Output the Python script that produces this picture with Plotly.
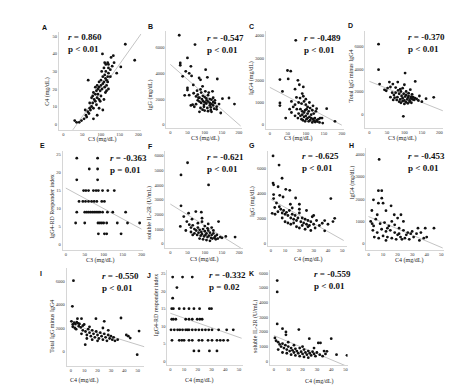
import plotly.graph_objects as go

W, H = 474, 385

# ---------------- data ----------------
# A: C3 vs C4
A_c3 = [30,35,42,48,55,60,62,65,68,70,72,75,58,78,80,82,85,88,90,92,95,85,80,88,92,95,98,100,103,105,
        108,110,112,115,100,95,90,110,113,118,120,105,85,78,75,70,100,108,98,112,115,118,120,125,130,135,
        110,104,127,133,153,165,66,95,105,90,80,115,125,120,102,108,118,190,142,120,113]
A_c4 = [2,1,1,2,3,5,4,7,6,9,8,10,8,12,9,14,13,11,15,17,14,17,18,19,20,21,19,22,20,23,
        24,21,26,25,25,24,22,28,30,27,29,27,21,16,15,12,16,14,13,18,22,24,32,31,33,35,
        35,40,38,39,32.6,45.5,25,9,8,5,3,19,27,20,30,32,35,36.4,29,34,34]
A_fit_x = [25, 207]
A_fit_y = [-3.3, 51.4]

# B: C3 vs IgG
B_c3 = [26,72,50,29,29,60,45,55,103,84,88,108,137,36,62,50,50,67,94,123,42,55,68,75,80,85,90,95,100,105,
        110,115,120,125,80,85,90,95,100,105,110,115,120,125,130,75,70,88,98,108,118,128,135,100,110,120,
        94,85,65,152,171,187,142,147,112,102,92,82,130,135,115,106,78,88,98,60,118,125]
B_igg = [6970,6240,5200,4810,4630,4550,4160,4000,4290,3640,3500,3690,3560,3770,3800,2860,2700,3100,2990,2600,
         2290,2300,2450,2200,2350,2100,2500,2250,2150,2050,2300,2000,1950,2100,1900,1800,1700,1850,1750,1650,
         1800,1700,1600,1500,1700,1600,1400,1300,1400,1300,1350,1250,1400,1100,1050,1000,1170,1000,1560,2030,
         2080,1610,1610,910,2500,2600,2000,2100,1900,1200,1500,1900,2650,2750,1550,1500,1150,1750]
B_fit_x = [0, 205]
B_fit_y = [4700, -100]

# C: C3 vs IgG4
C_c3 = [72,49,58,28,51,82,93,35,74,28,28,84,93,60,65,70,80,88,95,100,105,75,85,90,98,102,108,112,118,122,
        128,130,158,80,85,90,95,100,105,110,115,120,125,130,135,140,88,92,98,102,108,112,118,122,126,132,
        138,145,181,147,44,70,78,95,105,115,60,55,110,120,100,90,70,78]
C_igg4 = [3800,2440,2410,2030,2060,1800,1700,1500,1230,980,860,1200,1280,1050,800,900,1000,950,1050,900,
          800,700,700,600,650,700,600,750,650,500,600,720,720,500,400,450,350,400,300,350,300,250,300,200,
          250,300,250,200,150,250,150,200,100,180,120,140,100,300,150,75,300,400,300,550,500,450,550,700,
          1000,850,1150,1400,1600,2000]
C_fit_x = [0, 200]
C_fit_y = [1680, -20]

# D: C3 vs Total IgG minus IgG4
D_c3 = [26,26,29,102,57,67,81,131,52,48,43,60,75,100,117,184,162,143,97,65,70,75,80,85,88,90,92,95,98,100,
        102,105,108,110,112,115,118,120,123,125,128,130,135,85,90,95,100,105,110,115,120,78,72,68,82,88,
        95,105,112,122,60,140,150]
D_diff = [6210,3940,2660,3640,2840,2660,2840,2900,2310,2070,2150,2400,2350,2600,2160,1480,1360,1600,-210,
          1900,1700,1900,1500,1800,1300,2000,1600,1400,1800,1200,1550,1700,1300,1450,1600,1200,1400,1550,
          1300,1500,1250,1400,1350,1100,1000,1150,900,1050,950,1100,1000,1250,1450,1250,2100,2200,2300,
          2000,1850,1750,1500,1200,1100]
D_fit_x = [0, 210]
D_fit_y = [2900, 290]

# E: C3 vs IgG4-RD Responder index
E_c3 = [29,84, 62,84, 29,84,
        47,53,60,73,80,86,97,111,128,
        35,45,52,60,68,75,82,95,102,
        29,50,55,60,65,70,75,80,85,90,97,110,124,158,
        26,50,85,90,95,100,108,136,163,195,
        86,102,108,146]
E_ri = [24,24, 21,21, 18,18,
        15,15,15,15,15,15,15,15,15,
        12,12,12,12,12,12,12,12,12,
        9,9,9,9,9,9,9,9,9,9,9,9,9,9,
        6,6,6,6,6,6,6,6,6,6,
        3,3,3,3]
E_fit_x = [0, 200]
E_fit_y = [15.7, 4.3]

# F: C3 vs soluble IL-2R
F_c3 = [50,31,111,31,53,74,90,140,39,48,63,29,92,188,161,92,55,60,65,70,75,80,85,90,95,100,105,110,115,120,
        125,130,135,70,78,82,88,92,98,102,108,112,118,122,128,132,138,145,60,65,85,95,105,115,100,110,120,
        80,45,150,125,108]
F_sil2r = [5510,4680,4000,2580,2080,2190,2150,1510,1850,1510,1670,1175,1740,450,500,1500,1300,1100,1250,1000,
           900,1100,950,800,1000,850,700,900,750,600,700,500,600,700,600,750,550,650,500,600,450,550,400,350,
           400,300,350,450,800,600,350,300,250,200,1200,1350,1100,1400,900,400,900,1050]
F_fit_x = [0, 205]
F_fit_y = [2700, -300]

# G: C4 vs IgG
G_c4 = [1.6,5.8,7.9,5.1,1.6,2,10.5,13.3,6.3,2,2,8.6,17.4,20,42,13.7,2.8,1,3,5,7,8,9,10,11,12,13,14,15,16,
        17,18,19,20,21,22,23,24,25,26,27,28,29,30,31,32,10,14,18,20,22,24,26,28,8,12,16,25,30,44.7,43.5,
        37.7,36,37.7,4,6,34,40,20,15]
G_igg = [6970,6230,5180,4500,4790,4650,4290,4210,3810,3870,3550,3680,3600,3100,3550,3100,2840,2370,2300,2500,
         2700,2400,2600,2300,2450,2200,2600,2000,2300,1900,2200,1800,2000,2400,1700,2000,1600,1900,1500,1800,
         1400,1700,2100,1500,1200,1800,1700,1500,1300,1200,1400,1100,1300,1000,2000,1600,1600,2600,2200,1970,
         1710,1790,1580,970,3200,2900,1400,1500,2700,2800]
G_fit_x = [0, 51]
G_fit_y = [3500, 200]

# H: C4 vs IgG4
H_c4 = [7.3,6.8,9.1,9.1,6.8,10,3.4,12,15.5,2.3,17.7,22.3,20,1.5,2.5,3.5,5,8,11,14,16,18,21,24,3,6,9,12,15,18,
        21,24,27,30,33,36,39,45,34,4,7,10,13,16,19,22,25,28,31,35,38,40,12,20,26,6,13,29,23]
H_igg4 = [3780,2380,2380,2040,1820,1820,1970,1480,1700,1490,1300,1300,1150,1000,900,800,1100,900,950,800,1000,
          850,700,1000,600,500,650,550,600,500,450,600,500,550,450,500,700,700,700,300,250,350,300,250,200,300,
          250,200,300,150,250,300,150,400,400,1300,700,450,200]
H_fit_x = [0, 51]
H_fit_y = [1220, -190]

# I: C4 vs Total IgG minus IgG4
I_c4 = [2,1.2,8,18.8,25,37.5,0.5,1.5,2.5,3.5,4.5,5.5,6.5,1.5,3,4,6,7.5,9,10.8,8,9,11,12,13,14,15,16,17,18,
        19,20,21,22,23,24,25,26,27,28,29,30,31,32,12,16,20,24,28,33,41.5,43,44.4,51,49.6,5,10,14,35]
I_diff = [6060,3860,2800,2800,2570,2860,2570,2300,2450,2350,2500,2400,2350,2100,2000,1900,2150,2050,2200,570,
          1500,1800,1700,1400,1900,1600,1300,1800,1500,1200,1700,1400,1100,1600,1300,1000,1500,1200,900,1400,
          1100,1300,1000,1200,1100,1000,900,2000,1800,900,1400,1300,1140,1740,-290,2800,2300,2100,1000]
I_fit_x = [0, 55]
I_fit_y = [2340, 390]

# J: C4 vs IgG4-RD responder index
J_c4 = [1.7,8.9,16, 4.8, 1.7,
        1,2.2,6.5,10,13.6,17.2,21.3,28.5,30,
        1,2.2,4,11.2,13.6,16,19.6,21.5,23.2,
        0.5,2.9,5.3,6.9,8.9,11.2,12.4,13.6,16,18.4,20.8,23.2,25.6,28,30.4,35.2,41.1,45.9,
        1.2,6.5,8.4,10,13.6,16,20.8,23.2,27.5,30.4,34,36.4,38.8,41.9,
        17.2,20.8,28.5,34]
J_ri = [24,24,24, 21, 18,
        15,15,15,15,15,15,15,15,15,
        12,12,12,12,12,12,12,12,12,
        9,9,9,9,9,9,9,9,9,9,9,9,9,9,9,9,9,9,
        6,6,6,6,6,6,6,6,6,6,6,6,6,6,
        3,3,3,3]
J_fit_x = [0, 52]
J_fit_y = [13.7, 6.6]

# K: C4 vs soluble IL-2R
K_c4 = [2.3,2.3,2.3,17.4,6,8.4,8.4,24.7,40,31,32.5,0.7,1.5,3,4,5,6,7,8,9,10,11,12,13,14,15,16,17,18,19,
        20,21,22,23,24,25,26,27,28,29,30,32,34,36,37,43.7,51,3,6,9,12,15,18,21,24,10,14,20,28,35]
K_sil2r = [5490,4720,2540,2160,2220,2000,1800,1540,1540,1250,1250,1590,1400,1300,1150,1000,1200,900,1100,800,
           1000,700,900,750,600,850,700,550,900,650,500,800,600,450,700,550,400,650,500,350,600,450,350,500,
           680,450,410,800,600,550,450,400,350,300,250,1300,1100,1000,900,700]
K_fit_x = [0, 51]
K_fit_y = [1750, -340]

r_texts = {"A": "0.860", "B": "-0.547", "C": "-0.489", "D": "-0.370", "E": "-0.363", "F": "-0.621",
           "G": "-0.625", "H": "-0.453", "I": "-0.550", "J": "-0.332", "K": "-0.559"}
p_texts = {"A": "p < 0.01", "B": "p < 0.01", "C": "p < 0.01", "D": "p < 0.01", "E": "p = 0.01",
           "F": "p < 0.01", "G": "p < 0.01", "H": "p < 0.01", "I": "p < 0.01", "J": "p = 0.02",
           "K": "p < 0.01"}

C3_T = "C3 (mg/dL)"
C4_T = "C4 (mg/dL)"
c3_ticks = [0, 50, 100, 150, 200]
c4_ticks = [0, 10, 20, 30, 40, 50]

panels = [
    # key, x, y, fitx, fity, xtitle, ytitle, xticks, yticks
    ("A", A_c3, A_c4, A_fit_x, A_fit_y, C3_T, "C4 (mg/dL)", c3_ticks, [0, 10, 20, 30, 40, 50]),
    ("B", B_c3, B_igg, B_fit_x, B_fit_y, C3_T, "IgG (mg/dL)", c3_ticks, [0, 2000, 4000, 6000]),
    ("C", C_c3, C_igg4, C_fit_x, C_fit_y, C3_T, "IgG4 (mg/dL)", c3_ticks, [0, 1000, 2000, 3000, 4000]),
    ("D", D_c3, D_diff, D_fit_x, D_fit_y, C3_T, "Total IgG minus IgG4", c3_ticks, [0, 2000, 4000, 6000]),
    ("E", E_c3, E_ri, E_fit_x, E_fit_y, C3_T, "IgG4-RD Responder index", c3_ticks, [0, 5, 10, 15, 20, 25]),
    ("F", F_c3, F_sil2r, F_fit_x, F_fit_y, C3_T, "soluble IL-2R (U/mL)", c3_ticks,
     [0, 1000, 2000, 3000, 4000, 5000, 6000]),
    ("G", G_c4, G_igg, G_fit_x, G_fit_y, C4_T, "IgG (mg/dL)", c4_ticks, [0, 2000, 4000, 6000]),
    ("H", H_c4, H_igg4, H_fit_x, H_fit_y, C4_T, "IgG4 (mg/dL)", c4_ticks, [0, 1000, 2000, 3000, 4000]),
    ("I", I_c4, I_diff, I_fit_x, I_fit_y, C4_T, "Total IgG minus IgG4", c4_ticks, [0, 2000, 4000, 6000]),
    ("J", J_c4, J_ri, J_fit_x, J_fit_y, C4_T, "IgG4-RD responder index", c4_ticks, [0, 5, 10, 15, 20, 25]),
    ("K", K_c4, K_sil2r, K_fit_x, K_fit_y, C4_T, "soluble IL-2R (U/mL)", c4_ticks,
     [0, 1000, 2000, 3000, 4000, 5000, 6000]),
]

# ---------------- layout (pixel boxes: left, right, top, bottom) ----------------
boxes = {"A": (51, 134, 24, 122), "B": (159, 235, 23, 120), "C": (259, 337, 23, 121), "D": (359, 437, 23, 120),
         "E": (55, 136, 143, 242), "F": (158, 236, 143, 240), "G": (261, 340, 143, 238), "H": (360, 438, 140, 242),
         "I": (59, 137, 260, 358), "J": (160, 236, 262, 357), "K": (263, 341, 262, 357)}
ranges = {"A": ([-12.5, 208], [-3.4, 52.5]), "B": ([-11.6, 209], [-257, 7300]), "C": ([-11, 205], [-194, 4220]),
          "D": ([-11.4, 211], [-1244, 7380]), "E": ([-8, 205], [-1.5, 26]), "F": ([-14.5, 211], [-290, 6310]),
          "G": ([-2, 53], [-240, 7360]), "H": ([-1.4, 52], [-280, 4290]), "I": ([-3, 55], [-1260, 7150]),
          "J": ([-2.2, 53], [-1, 26]), "K": ([-2.8, 51.4], [-250, 6210])}
stat_pos = {"A": (58, 29), "B": (198, 30), "C": (295, 30), "D": (400, 29), "E": (100, 150), "F": (198, 149),
            "G": (293, 148), "H": (400, 148), "I": (92, 268), "J": (200, 267), "K": (305, 266)}
letter_pos = {"A": (37, 19), "B": (143, 18), "C": (245, 18), "D": (344, 17), "E": (35, 137), "F": (143, 138),
              "G": (245, 137), "H": (345, 137), "I": (33, 265), "J": (142, 267), "K": (245, 265)}
ytitle_pos = {"A": (40, 83), "B": (144, 87), "C": (244, 70), "D": (344, 68), "E": (44, 198), "F": (143, 205),
              "G": (246, 193), "H": (345, 175), "I": (44, 318), "J": (149, 297), "K": (248, 318)}
xtitle_pos = {"A": (95, 131), "B": (198, 130), "C": (292, 130), "D": (396, 130), "E": (93, 252), "F": (197, 251),
              "G": (302, 251), "H": (403, 252), "I": (77, 372), "J": (192, 372), "K": (313, 373)}

SERIF = "Liberation Serif, Times New Roman, serif"
fig = go.Figure()
layout = dict(width=W, height=H, margin=dict(l=0, r=0, t=0, b=0), showlegend=False,
              paper_bgcolor="white", plot_bgcolor="white", annotations=[])


def px_x(v):
    return v / W


def px_y(v):
    return 1 - v / H


def ann(x, y, text, size, family=SERIF, xanchor="center", angle=0, color="#111"):
    return dict(x=px_x(x), y=px_y(y), xref="paper", yref="paper", xanchor=xanchor, yanchor="middle",
                showarrow=False, text=text, textangle=angle, font=dict(family=family, size=size, color=color))


for i, (key, xs, ys, fx, fy, xt, yt, xtv, ytv) in enumerate(panels, start=1):
    sfx = "" if i == 1 else str(i)
    l, r, t, b = boxes[key]
    xr, yr = ranges[key]
    fig.add_trace(go.Scatter(x=fx, y=fy, mode="lines", line=dict(color="#c4c4c4", width=1),
                             xaxis="x" + sfx, yaxis="y" + sfx, hoverinfo="skip"))
    fig.add_trace(go.Scatter(x=xs, y=ys, mode="markers", marker=dict(color="#111111", size=2.8),
                             xaxis="x" + sfx, yaxis="y" + sfx))
    common = dict(showline=True, linecolor="#d6d6d6", linewidth=1, showgrid=False, zeroline=False, ticks="",
                  tickfont=dict(family=SERIF, size=4.5, color="#333"))
    layout["xaxis" + sfx] = dict(domain=[px_x(l), px_x(r)], anchor="y" + sfx, range=xr, tickvals=xtv, **common)
    layout["yaxis" + sfx] = dict(domain=[px_y(b), px_y(t)], anchor="x" + sfx, range=yr, tickvals=ytv, **common)
    sx, sy = stat_pos[key]
    layout["annotations"].append(ann(sx, sy, "<b><i>r</i> = " + r_texts[key] + "</b>", 9, xanchor="left"))
    layout["annotations"].append(ann(sx, sy + 12, "<b>" + p_texts[key] + "</b>", 9, xanchor="left"))
    lx, ly = letter_pos[key]
    layout["annotations"].append(ann(lx, ly, "<b>" + key + "</b>", 7,
                                     family="Liberation Sans, Arial, sans-serif"))
    tx, ty = ytitle_pos[key]
    layout["annotations"].append(ann(tx, ty, yt, 6, angle=-90, color="#222"))
    tx, ty = xtitle_pos[key]
    layout["annotations"].append(ann(tx, ty, xt, 6, color="#222"))

fig.update_layout(**layout)
fig.write_html("out.html")
